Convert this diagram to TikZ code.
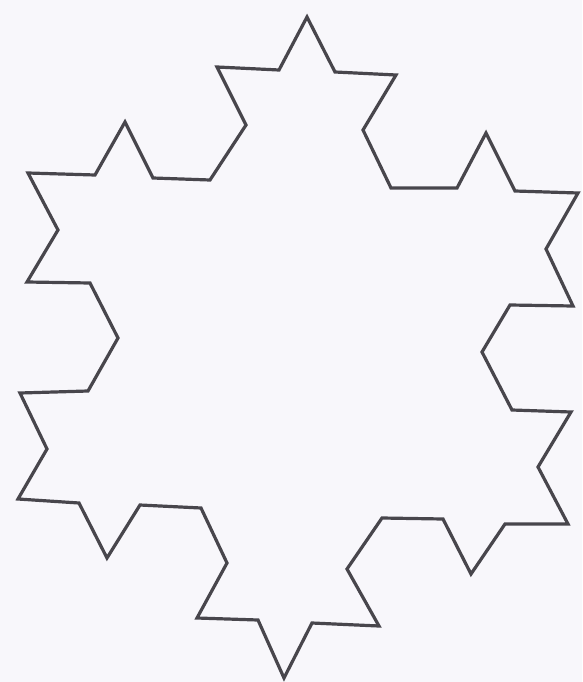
\documentclass[tikz,border=0pt]{standalone}
\definecolor{bgpaper}{RGB}{248,247,251}
\definecolor{pencil}{RGB}{72,70,76}
\begin{document}
\begin{tikzpicture}[x=1pt,y=-1pt,
  koch/.style={draw=pencil, line width=3.2pt, line join=miter, miter limit=4}]
\fill[bgpaper] (0,0) rectangle (582,682);
\useasboundingbox (0,0) rectangle (582,682);
\draw[koch]
 (307,17) -- (335,72) -- (396,75) -- (363,130) -- (391,188) -- (457,188) -- (486,133) -- (515,191)
 -- (578,193) -- (546,249) -- (573,306) -- (510,305) -- (482,352) -- (512,410) -- (571,412) -- (538,467)
 -- (568,524) -- (505,524) -- (471,574) -- (443,519) -- (382,518) -- (347,569) -- (379,626) -- (312,623)
 -- (284,678) -- (258,620) -- (197,618) -- (227,563) -- (201,508) -- (140,505) -- (107,558) -- (79,503)
 -- (18,499) -- (47,449) -- (20,393) -- (88,391) -- (118,338) -- (90,283) -- (27,282) -- (58,230)
 -- (28,173) -- (95,175) -- (125,122) -- (153,178) -- (210,180) -- (246,125) -- (217,67) -- (279,70)
 -- cycle;
\end{tikzpicture}
\end{document}
